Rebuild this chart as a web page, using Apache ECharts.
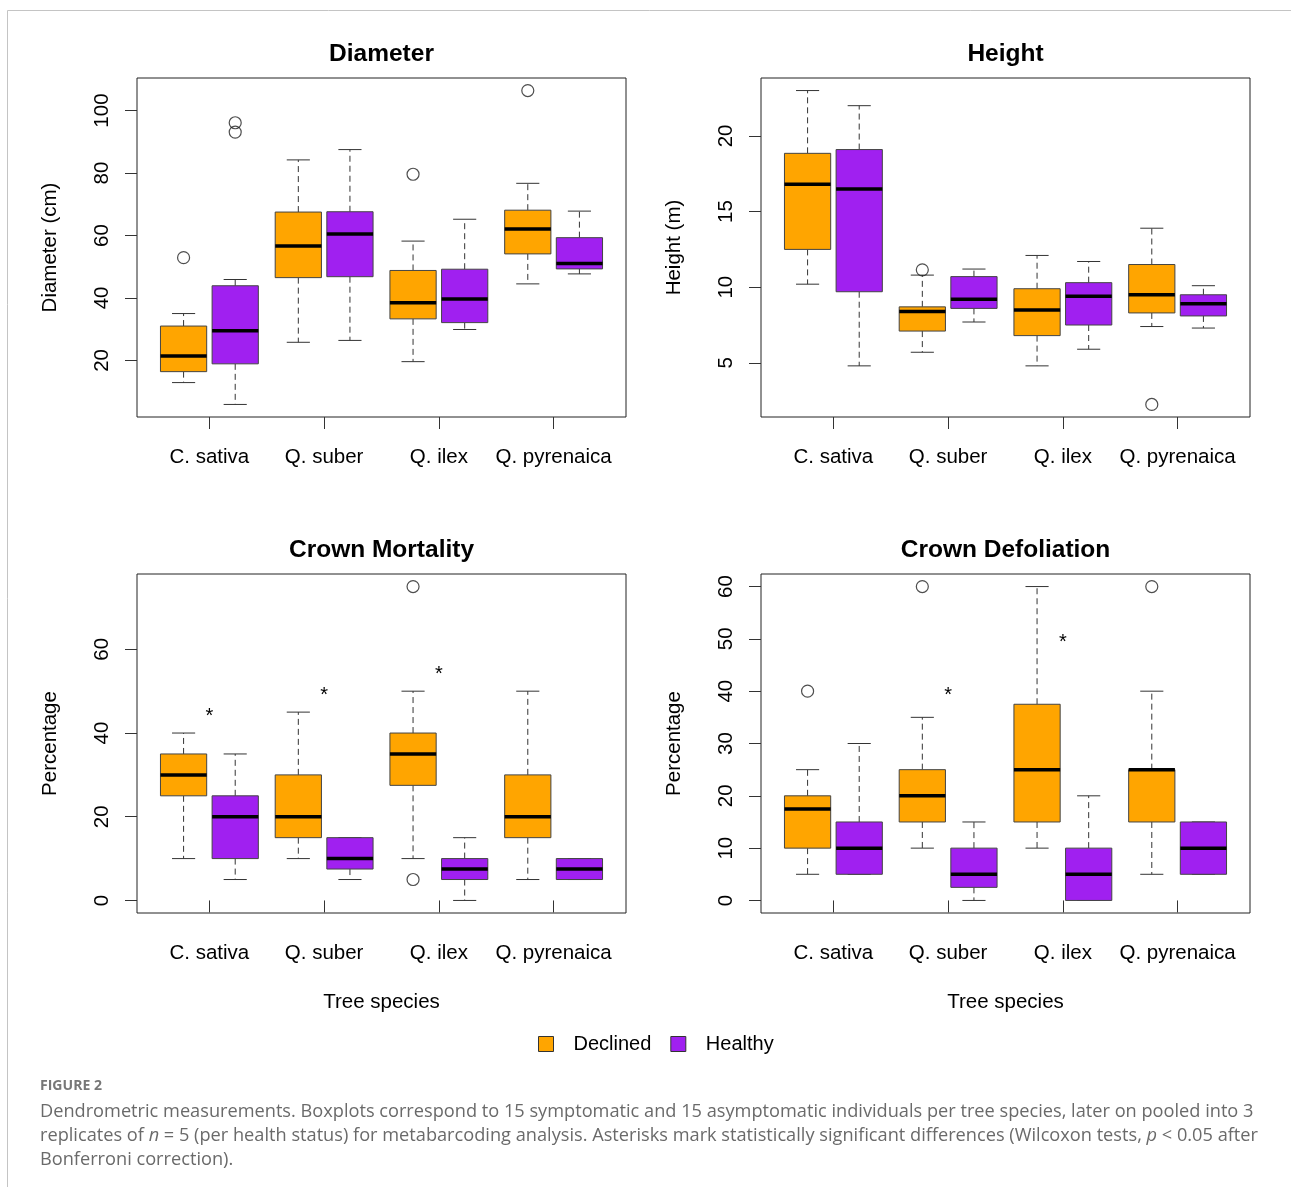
<!DOCTYPE html>
<html>
<head>
<meta charset="utf-8">
<script src="https://cdn.jsdelivr.net/npm/echarts@6/dist/echarts.min.js"></script>
<style>
html,body{margin:0;padding:0;background:#fff}
#chart{width:1291px;height:1187px}
</style>
</head>
<body>
<div id="chart"></div>
<script>
// ---------------- DATA ----------------
const species = ['C. sativa', 'Q. suber', 'Q. ilex', 'Q. pyrenaica'];
const statuses = ['Declined', 'Healthy'];

// five-number summaries per species: [lower whisker, Q1, median, Q3, upper whisker]
const diameterDeclined = [[12.9, 16.4, 21.4, 31.0, 35.0], [25.8, 46.5, 56.6, 67.5, 84.2], [19.6, 33.3, 38.5, 48.8, 58.2], [44.5, 54.1, 62.1, 68.1, 76.7]];
const diameterHealthy  = [[5.9, 18.9, 29.5, 43.9, 45.9], [26.4, 46.8, 60.5, 67.6, 87.5], [29.9, 32.1, 39.7, 49.2, 65.2], [47.7, 49.3, 51.0, 59.3, 67.8]];
// outliers: [species index, status index, value]
const diameterOutliers = [[0, 0, 52.9], [0, 1, 96.1], [0, 1, 93.1], [2, 0, 79.6], [3, 0, 106.4]];
const diameterTicks = [20, 40, 60, 80, 100];

const heightDeclined = [[10.2, 12.5, 16.8, 18.85, 23.0], [5.7, 7.1, 8.4, 8.7, 10.8], [4.8, 6.8, 8.5, 9.9, 12.1], [7.4, 8.3, 9.5, 11.5, 13.9]];
const heightHealthy  = [[4.8, 9.7, 16.5, 19.1, 22.0], [7.7, 8.6, 9.2, 10.7, 11.2], [5.9, 7.5, 9.4, 10.3, 11.7], [7.3, 8.1, 8.9, 9.5, 10.1]];
const heightOutliers = [[1, 0, 11.15], [3, 0, 2.25]];
const heightTicks = [5, 10, 15, 20];

const mortalityDeclined = [[10, 25, 30, 35, 40], [10, 15, 20, 30, 45], [10, 27.5, 35, 40, 50], [5, 15, 20, 30, 50]];
const mortalityHealthy  = [[5, 10, 20, 25, 35], [5, 7.5, 10, 15, 15], [0, 5, 7.5, 10, 15], [5, 5, 7.5, 10, 10]];
const mortalityOutliers = [[2, 0, 75], [2, 0, 5]];
// significance asterisks: [species index, value]
const mortalityStars = [[0, 45], [1, 50], [2, 55]];
const mortalityTicks = [0, 20, 40, 60];

const defoliationDeclined = [[5, 10, 17.5, 20, 25], [10, 15, 20, 25, 35], [10, 15, 25, 37.5, 60], [5, 15, 25, 25, 40]];
const defoliationHealthy  = [[5, 5, 10, 15, 30], [0, 2.5, 5, 10, 15], [0, 0, 5, 10, 20], [5, 5, 10, 15, 15]];
const defoliationOutliers = [[0, 0, 40], [1, 0, 60], [3, 0, 60]];
const defoliationStars = [[1, 40], [2, 50]];
const defoliationTicks = [0, 10, 20, 30, 40, 50, 60];

const panelTitles = ['Diameter', 'Height', 'Crown Mortality', 'Crown Defoliation'];
const yNames = ['Diameter (cm)', 'Height (m)', 'Percentage', 'Percentage'];
const xName = 'Tree species';

const captionLabel = 'FIGURE 2';
const captionLines = [
  'Dendrometric measurements. Boxplots correspond to 15 symptomatic and 15 asymptomatic individuals per tree species, later on pooled into 3',
  'replicates of {i|n} = 5 (per health status) for metabarcoding analysis. Asterisks mark statistically significant differences (Wilcoxon tests, {i|p} < 0.05 after',
  'Bonferroni correction).'
];

// ---------------- LAYOUT / STYLE ----------------
const ORANGE = '#FFA500';
const PURPLE = '#A020F0';
const FONT = 'Liberation Sans, Arial, Helvetica, sans-serif';
const CAP_FONT = 'Open Sans, Noto Sans, sans-serif';
const FS = 20.5;
const GRIDS = [
  { left: 137, top: 78 }, { left: 761, top: 78 },
  { left: 137, top: 574 }, { left: 761, top: 574 }
];
const GW = 489, GH = 339;
const X_MIN = 0.369, X_MAX = 4.631;
const OFFSET = 0.225, BOX_W = 0.403;

const panels = [
  { declined: diameterDeclined, healthy: diameterHealthy, outliers: diameterOutliers, stars: [], ticks: diameterTicks },
  { declined: heightDeclined, healthy: heightHealthy, outliers: heightOutliers, stars: [], ticks: heightTicks },
  { declined: mortalityDeclined, healthy: mortalityHealthy, outliers: mortalityOutliers, stars: mortalityStars, ticks: mortalityTicks },
  { declined: defoliationDeclined, healthy: defoliationHealthy, outliers: defoliationOutliers, stars: defoliationStars, ticks: defoliationTicks }
];

function yRange(p) {
  let lo = Infinity, hi = -Infinity;
  p.declined.concat(p.healthy).forEach(b => { lo = Math.min(lo, b[0]); hi = Math.max(hi, b[4]); });
  p.outliers.forEach(o => { lo = Math.min(lo, o[2]); hi = Math.max(hi, o[2]); });
  const ext = (hi - lo) * 0.04;
  return [lo - ext, hi + ext];
}

function boxX(si, st) { return si + 1 + (st === 0 ? -OFFSET : OFFSET); }

function renderBox(params, api) {
  const x = api.value(0);
  const v = [1, 2, 3, 4, 5].map(d => api.value(d));
  const xc = api.coord([x, v[0]])[0];
  const y = v.map(val => api.coord([x, val])[1]);
  const bw = api.size([BOX_W, 0])[0];
  const color = api.visual('color');
  const dash = { stroke: '#333', lineWidth: 1, lineDash: [6, 4] };
  const solid = { stroke: '#333', lineWidth: 1 };
  return {
    type: 'group',
    children: [
      { type: 'line', shape: { x1: xc, y1: y[3], x2: xc, y2: y[4] }, style: dash },
      { type: 'line', shape: { x1: xc, y1: y[1], x2: xc, y2: y[0] }, style: dash },
      { type: 'line', shape: { x1: xc - bw / 4, y1: y[4], x2: xc + bw / 4, y2: y[4] }, style: solid },
      { type: 'line', shape: { x1: xc - bw / 4, y1: y[0], x2: xc + bw / 4, y2: y[0] }, style: solid },
      { type: 'rect', shape: { x: xc - bw / 2, y: y[3], width: bw, height: y[1] - y[3] }, style: { fill: color, stroke: '#444', lineWidth: 1 } },
      { type: 'line', shape: { x1: xc - bw / 2, y1: y[2], x2: xc + bw / 2, y2: y[2] }, style: { stroke: '#000', lineWidth: 3.5 } }
    ]
  };
}

function renderStar(params, api) {
  const p = api.coord([api.value(0), api.value(1)]);
  return {
    type: 'text',
    style: { text: '*', x: p[0], y: p[1] + 4, align: 'center', verticalAlign: 'middle', fontSize: 20, fontFamily: FONT, fill: '#000' }
  };
}

const grid = [], xAxis = [], yAxis = [], series = [];
panels.forEach((p, i) => {
  grid.push({ left: GRIDS[i].left, top: GRIDS[i].top, width: GW, height: GH, show: true, borderColor: '#222', borderWidth: 1, backgroundColor: 'transparent' });
  xAxis.push({
    gridIndex: i, type: 'value', min: X_MIN, max: X_MAX,
    axisLine: { show: false }, splitLine: { show: false },
    axisTick: { show: true, customValues: [1, 2, 3, 4], length: 12, lineStyle: { color: '#333', width: 1 } },
    axisLabel: { show: true, customValues: [1, 2, 3, 4], formatter: v => species[Math.round(v) - 1], margin: 30, fontSize: FS, color: '#000', fontFamily: FONT },
    name: i >= 2 ? xName : '', nameLocation: 'middle', nameGap: 79,
    nameTextStyle: { fontSize: FS, color: '#000', fontFamily: FONT }
  });
  const r = yRange(p);
  yAxis.push({
    gridIndex: i, type: 'value', min: r[0], max: r[1],
    axisLine: { show: false }, splitLine: { show: false },
    axisTick: { show: true, customValues: p.ticks, length: 12, lineStyle: { color: '#333', width: 1 } },
    axisLabel: { show: true, customValues: p.ticks, rotate: 90, margin: 24, fontSize: FS, color: '#000', fontFamily: FONT },
    name: yNames[i], nameLocation: 'middle', nameGap: 76,
    nameTextStyle: { fontSize: FS, color: '#000', fontFamily: FONT }
  });
  [p.declined, p.healthy].forEach((boxes, st) => {
    series.push({
      type: 'custom', name: statuses[st], xAxisIndex: i, yAxisIndex: i,
      itemStyle: { color: st === 0 ? ORANGE : PURPLE },
      encode: { x: 0, y: [1, 2, 3, 4, 5] },
      data: boxes.map((b, si) => [boxX(si, st)].concat(b)),
      renderItem: renderBox, silent: true, z: 2
    });
  });
  series.push({
    type: 'scatter', name: 'outliers' + i, xAxisIndex: i, yAxisIndex: i,
    symbol: 'circle', symbolSize: 12,
    itemStyle: { color: 'rgba(0,0,0,0)', borderColor: '#222', borderWidth: 1.2 },
    data: p.outliers.map(o => [boxX(o[0], o[1]), o[2]]), silent: true, z: 3
  });
  if (p.stars.length) {
    series.push({
      type: 'custom', name: 'stars' + i, xAxisIndex: i, yAxisIndex: i,
      encode: { x: 0, y: 1 },
      data: p.stars.map(s => [s[0] + 1, s[1]]),
      renderItem: renderStar, silent: true, z: 3
    });
  }
});

// fit caption font sizes to the reference line widths
const mctx = document.createElement('canvas').getContext('2d');
function fitSize(text, font, weight, target) {
  mctx.font = weight + ' 100px ' + font;
  return 100 * target / mctx.measureText(text).width;
}
const capFS = fitSize(captionLines[0], CAP_FONT, 'normal', 1214);
const labFS = fitSize(captionLabel, CAP_FONT, 'bold', 62);

const graphic = [
  { type: 'line', shape: { x1: 7.5, y1: 10.5, x2: 1291, y2: 10.5 }, style: { stroke: '#c4c4c4', lineWidth: 1 } },
  { type: 'line', shape: { x1: 7.5, y1: 10.5, x2: 7.5, y2: 1187 }, style: { stroke: '#c4c4c4', lineWidth: 1 } }
];
panelTitles.forEach((t, i) => {
  graphic.push({
    type: 'text', x: GRIDS[i].left + GW / 2, y: GRIDS[i].top - 23.5,
    style: { text: t, align: 'center', verticalAlign: 'middle', fontSize: 24.5, fontWeight: 'bold', fontFamily: FONT, fill: '#000' }
  });
});
graphic.push({
  type: 'text', x: 40, y: 1086,
  style: { text: captionLabel, align: 'left', verticalAlign: 'middle', fontSize: labFS, fontWeight: 'bold', fontFamily: CAP_FONT, fill: '#777' }
});
captionLines.forEach((line, k) => {
  graphic.push({
    type: 'text', x: 40, y: 1111.5 + k * 24,
    style: {
      text: line, align: 'left', verticalAlign: 'middle', fontSize: capFS, fontFamily: CAP_FONT, fill: '#6a6a6a',
      rich: { i: { fontStyle: 'italic', fontSize: capFS, fontFamily: CAP_FONT, fill: '#6a6a6a' } }
    }
  });
});

const chart = echarts.init(document.getElementById('chart'), null, { renderer: 'canvas' });
chart.setOption({
  animation: false,
  backgroundColor: '#fff',
  grid, xAxis, yAxis, series, graphic,
  legend: {
    left: 538, top: 1034, padding: 0, itemWidth: 15, itemHeight: 15, itemGap: 19,
    selectedMode: false,
    textStyle: { fontSize: 20, color: '#000', fontFamily: FONT, padding: [0, 0, 0, 15] },
    data: [
      { name: 'Declined', icon: 'rect', itemStyle: { color: ORANGE, borderColor: '#333', borderWidth: 1 } },
      { name: 'Healthy', icon: 'rect', itemStyle: { color: PURPLE, borderColor: '#333', borderWidth: 1 } }
    ]
  }
});
</script>
</body>
</html>
